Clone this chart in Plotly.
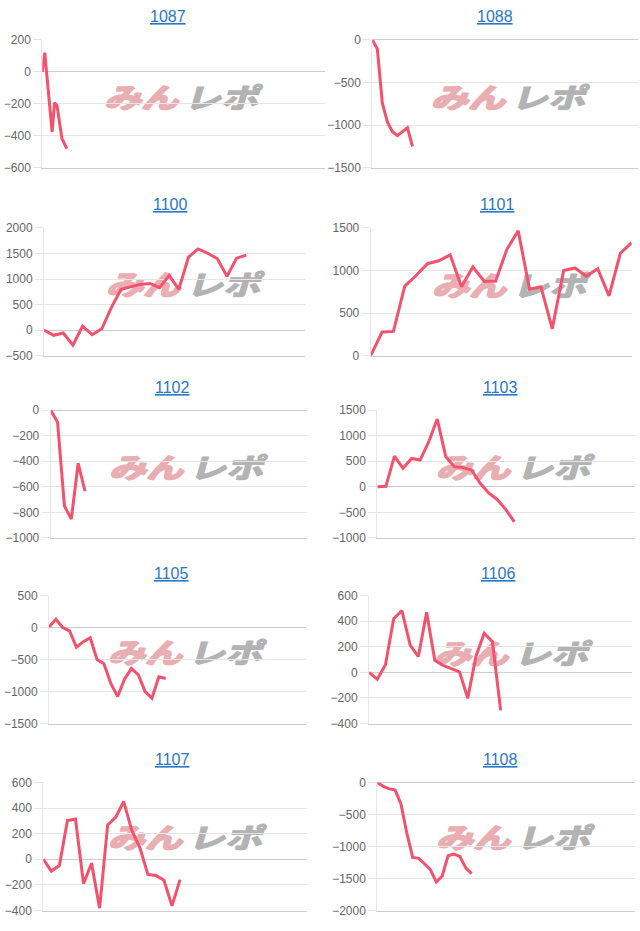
import base64
import plotly.graph_objects as go

# ---------------- data ----------------
titles = ["1087", "1088", "1100", "1101", "1102", "1103", "1105", "1106", "1107", "1108"]

x_1087 = [0, 1, 4, 5, 6, 8, 10]
y_1087 = [0, 120, -376, -193, -211, -417, -480]

x_1088 = [0, 1, 2, 3, 4, 5, 6, 7, 8]
y_1088 = [0, -108, -742, -962, -1077, -1123, -1075, -1031, -1250]

y_1100 = [0, -101, -57, -294, 78, -89, 27, 445, 798, 850, 895, 914, 830, 1068,
          798, 1428, 1589, 1505, 1396, 1055, 1409, 1467]

y_1101 = [0, 278, 285, 817, 941, 1080, 1114, 1184, 810, 1041, 875, 875, 1249,
          1465, 779, 810, 316, 999, 1030, 933, 1022, 702, 1203, 1327]

y_1102 = [0, -95, -750, -853, -416, -635]

y_1103 = [0, 10, 600, 362, 555, 523, 877, 1326, 587, 395, 375, 330, 73, -120,
          -248, -441, -685]

y_1105 = [10, 131, 3, -49, -305, -218, -156, -495, -562, -869, -1074, -803,
          -638, -731, -997, -1100, -767, -792]

y_1106 = [0, -53, 60, 420, 484, 214, 124, 471, 94, 55, 29, 4, -202, 127, 307,
          240, -297]

y_1107 = [0, -92, -49, 303, 315, -190, -31, -382, 269, 328, 451, 226, 92, -118,
          -126, -164, -364, -159]

y_1108 = [0, -60, -100, -115, -330, -790, -1170, -1185, -1270, -1360, -1555,
          -1460, -1145, -1120, -1155, -1335, -1425]

series_x = [x_1087, x_1088] + [list(range(len(v))) for v in
            [y_1100, y_1101, y_1102, y_1103, y_1105, y_1106, y_1107, y_1108]]
series_y = [y_1087, y_1088, y_1100, y_1101, y_1102, y_1103, y_1105, y_1106, y_1107, y_1108]

# x-axis extents (number of slots on the hidden category axis)
x_max = [115, 52.8, 27.1, 23, 37.3, 30.1, 37.4, 32, 32.75, 43.7]

# y-axis ranges and tick steps
y_ranges = [(-600, 200), (-1500, 0), (-500, 2000), (0, 1500), (-1000, 0),
            (-1000, 1500), (-1500, 500), (-400, 600), (-400, 600), (-2000, 0)]
y_dticks = [200, 500, 500, 500, 200, 500, 500, 200, 200, 500]

# ---------------- layout geometry (pixels) ----------------
W, H = 640, 931
boxes = [  # left, right, top, bottom
    (42.3, 324.5, 33.3, 163.3),
    (372.3, 637.5, 33.3, 163.3),
    (44.0, 305.0, 224.3, 354.0),
    (370.7, 631.7, 224.3, 354.0),
    (50.7, 306.7, 409.3, 539.0),
    (377.3, 635.0, 409.3, 539.0),
    (49.0, 305.7, 597.7, 727.7),
    (369.0, 632.3, 597.7, 727.5),
    (43.3, 306.7, 787.3, 917.3),
    (377.3, 635.0, 787.3, 917.3),
]
title_pos = [(168, 15), (495, 15), (170, 206), (497, 206), (172, 391), (500, 391),
             (171, 580), (498, 580), (172, 769), (500, 769)]
wm_pos = [(184, 90), (511, 90), (186, 280), (512, 281), (189, 466), (516, 466),
          (188, 654), (514, 655), (188, 842), (516, 842)]

LINE = "#f4516c"
GRID = "#e6e6e6"
ZERO = "#cdcdcd"
TICKC = "#666666"
FONT = "Liberation Sans, Arial, sans-serif"

# watermark logo as an SVG image (drawn below the data)
WM_W, WM_H = 160, 30
svg = (
    f"<svg xmlns='http://www.w3.org/2000/svg' width='{WM_W}' height='{WM_H}' "
    f"viewBox='0 0 {WM_W} {WM_H}'>"
    "<g transform='translate(0,3) scale(1,0.9) skewX(-14) translate(7,0)'>"
    "<text x='0' y='27' font-family='Noto Sans CJK JP' font-weight='bold' "
    "font-size='31' fill='#e8aeb2' stroke='#e8aeb2' stroke-width='2.2' "
    "stroke-linejoin='round' textLength='74' lengthAdjust='spacingAndGlyphs'>みん</text>"
    "<text x='80' y='27' font-family='Noto Sans CJK JP' font-weight='bold' "
    "font-size='31' fill='#b3b3b3' stroke='#b3b3b3' stroke-width='1.6' "
    "stroke-linejoin='round' textLength='74' lengthAdjust='spacingAndGlyphs'>レポ</text>"
    "</g></svg>"
)
wm_src = "data:image/svg+xml;base64," + base64.b64encode(svg.encode("utf-8")).decode()

fig = go.Figure()
layout = dict(
    width=W, height=H, margin=dict(l=0, r=0, t=0, b=0),
    paper_bgcolor="white", plot_bgcolor="rgba(0,0,0,0)", showlegend=False,
    annotations=[], images=[],
)

for i in range(10):
    n = "" if i == 0 else str(i + 1)
    l, r, t, b = boxes[i]
    fig.add_trace(go.Scatter(
        x=series_x[i], y=series_y[i], mode="lines",
        line=dict(color=LINE, width=3), hoverinfo="skip",
        xaxis="x" + n, yaxis="y" + n,
    ))
    layout["xaxis" + n] = dict(
        domain=[l / W, r / W], anchor="y" + n, range=[0, x_max[i]],
        showticklabels=False, showgrid=False, zeroline=False,
        showline=True, linecolor=ZERO, linewidth=1, ticks="", fixedrange=True,
    )
    layout["yaxis" + n] = dict(
        domain=[1 - b / H, 1 - t / H], anchor="x" + n,
        range=list(y_ranges[i]), dtick=y_dticks[i], tick0=0,
        showgrid=True, gridcolor=GRID, gridwidth=1,
        zeroline=True, zerolinecolor=ZERO, zerolinewidth=1,
        showline=True, linecolor=GRID, linewidth=1,
        ticks="outside", ticklen=8, tickcolor=GRID,
        tickfont=dict(family=FONT, size=12, color=TICKC), fixedrange=True,
    )
    tx, ty = title_pos[i]
    layout["annotations"].append(dict(
        text="<u>" + titles[i] + "</u>", xref="paper", yref="paper",
        x=tx / W, y=1 - (ty - 5) / H, xanchor="center", yanchor="middle",
        showarrow=False, font=dict(family=FONT, size=16, color="#2a76c6"),
    ))
    wx, wy = wm_pos[i]
    layout["images"].append(dict(
        source=wm_src, xref="paper", yref="paper",
        x=wx / W, y=1 - wy / H, sizex=WM_W / W, sizey=WM_H / H,
        xanchor="center", yanchor="middle", sizing="stretch", layer="below",
    ))

fig.update_layout(**layout)
fig.write_html("out.html")
